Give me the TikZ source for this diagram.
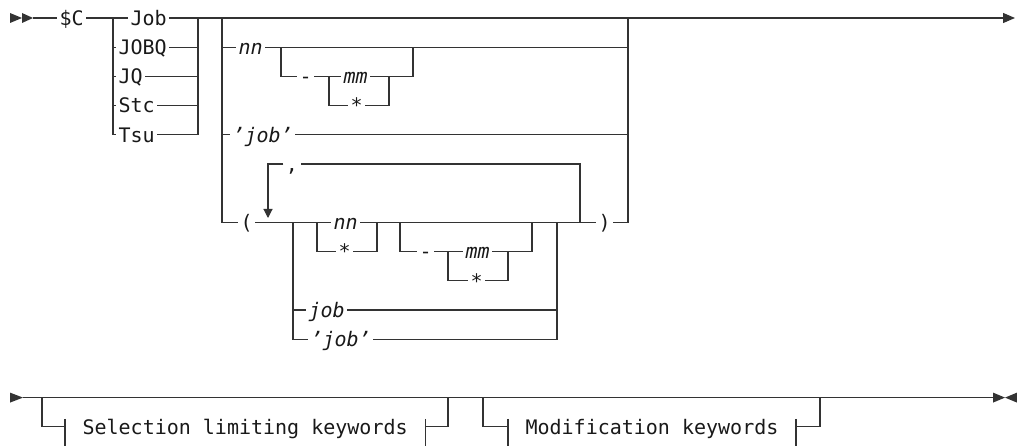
\documentclass[tikz,border=0pt]{standalone}
\usepackage{fontspec}
\usepackage{tikz}
\usetikzlibrary{arrows.meta}
\newfontfamily\rrfont[ItalicFont={DejaVu Sans Mono Oblique}]{DejaVu Sans Mono}

\begin{document}
\begin{tikzpicture}[x=1pt, y=-1pt, line width=1.1pt, color=black!80,
  kw/.style={font={\rrfont\fontsize{20}{23}\selectfont}, text=black!90, inner xsep=2pt, inner ysep=0pt,
    text height=14.6pt, text depth=0pt, anchor=west},
  var/.style={kw, font={\rrfont\fontsize{20}{23}\selectfont\itshape}},
  frag/.style={kw, inner xsep=17pt, append after command={
    ([yshift=8pt]\tikzlastnode.west) edge ([yshift=-20pt]\tikzlastnode.west)
    ([yshift=8pt]\tikzlastnode.east) edge ([yshift=-20pt]\tikzlastnode.east)}}]
\useasboundingbox (0,0) rectangle (1017,446);

\fill (10,13) -- (22,18) -- (10,23) -- cycle;
\fill (22,13) -- (33,18) -- (22,23) -- cycle;
\coordinate (go) at (33,18);
\node [kw] (dc) at (57,18) {\$C};
\node [kw] (job) at (128,18) {Job};
\node [kw] (jobq) at (116,47.2) {JOBQ};
\node [kw] (jq) at (116,76.4) {JQ};
\node [kw] (stc) at (116,105.6) {Stc};
\node [kw] (tsu) at (116,134.8) {Tsu};
\coordinate (typel) at (113,18);
\coordinate (typer) at (198,18);
\coordinate (topend) at (1015,18);
\draw (go) -- (dc.west);
\draw (dc.east) -- (job.west);
\foreach \n in {jobq,jq,stc,tsu} {
  \draw (typel) |- (\n.west);
  \draw (\n.east) -| (typer);
}
\draw (job.east) -- (typer);
\draw [-{Triangle[length=12pt,width=10pt]}] (typer) -- (topend);

\coordinate (argl) at (222,18);
\coordinate (argr) at (628,18);
\node [var] (nn) at (236,47.2) {nn};
\draw (argl) |- (nn.west);
\draw (nn.east) -| (argr);
\coordinate (rngl) at (281,47.2);
\coordinate (rngr) at (413,47.2);
\node [kw] (dash) at (297,76.4) {-};
\coordinate (endl) at (329,76.4);
\coordinate (endr) at (389,76.4);
\node [var] (mm) at (341,76.4) {mm};
\node [kw] (star) at (348,105.6) {*};
\draw (rngl) |- (dash.west);
\draw (dash.east) -- (mm.west);
\draw (mm.east) -| (rngr);
\draw (endl) |- (star.west);
\draw (star.east) -| (endr);

\node [var] (qjob) at (230,134.8) {’job’\hspace{5pt}};
\draw (argl) |- (qjob.west);
\draw (qjob.east) -| (argr);

\node [kw] (lp) at (238,222.4) {(};
\node [kw] (rp) at (596,222.4) {)};
\draw (argl) |- (lp.west);
\draw (rp.east) -| (argr);
\coordinate (sepl) at (268,222.4);
\coordinate (sepr) at (580,222.4);
\node [kw, anchor=center] (comma) at (292,164) {,};
\draw (sepr) |- (comma.east);
\draw [-{Triangle[length=9pt,width=9pt]}, shorten >=4.4pt] (comma.west) -| (sepl);

\coordinate (iteml) at (293,222.4);
\coordinate (itemr) at (557,222.4);
\coordinate (froml) at (317,222.4);
\coordinate (fromr) at (377,222.4);
\coordinate (rng2l) at (400,222.4);
\coordinate (rng2r) at (532,222.4);
\coordinate (end2l) at (448,251.6);
\coordinate (end2r) at (508,251.6);
\node [var] (nn2) at (331,222.4) {nn};
\node [kw] (star2) at (336,251.6) {*};
\node [kw] (dash2) at (417,251.6) {-};
\node [var] (mm2) at (463,251.6) {mm};
\node [kw] (star3) at (468,280.8) {*};
\node [var] (job2) at (306,310) {job};
\node [var] (qjob2) at (308,339.2) {’job’\hspace{5pt}};
\draw (lp.east) -- (nn2.west);
\draw (nn2.east) -- (rp.west);
\draw (froml) |- (star2.west);
\draw (star2.east) -| (fromr);
\draw (rng2l) |- (dash2.west);
\draw (dash2.east) -- (mm2.west);
\draw (mm2.east) -| (rng2r);
\draw (end2l) |- (star3.west);
\draw (star3.east) -| (end2r);
\draw (iteml) |- (job2.west);
\draw (iteml) |- (qjob2.west);
\draw (job2.east) -| (itemr);
\draw (qjob2.east) -| (itemr);

\fill (10,392.6) -- (23,397.6) -- (10,402.6) -- cycle;
\coordinate (bgo) at (23,397.6);
\coordinate (bend) at (993,397.6);
\draw (bgo) -- (bend);
\fill (993,392.6) -- (1005,397.6) -- (993,402.6) -- cycle;
\fill (1017,392.6) -- (1005,397.6) -- (1017,402.6) -- cycle;
\coordinate (sell) at (42,397.6);
\coordinate (selr) at (448,397.6);
\node [frag] (sel) at (65,426.8) {Selection limiting keywords};
\draw (sell) |- (sel.west);
\draw (sel.east) -| (selr);
\coordinate (modl) at (483,397.6);
\coordinate (modr) at (820,397.6);
\node [frag] (mod) at (508,426.8) {Modification keywords};
\draw (modl) |- (mod.west);
\draw (mod.east) -| (modr);
\end{tikzpicture}
\end{document}
